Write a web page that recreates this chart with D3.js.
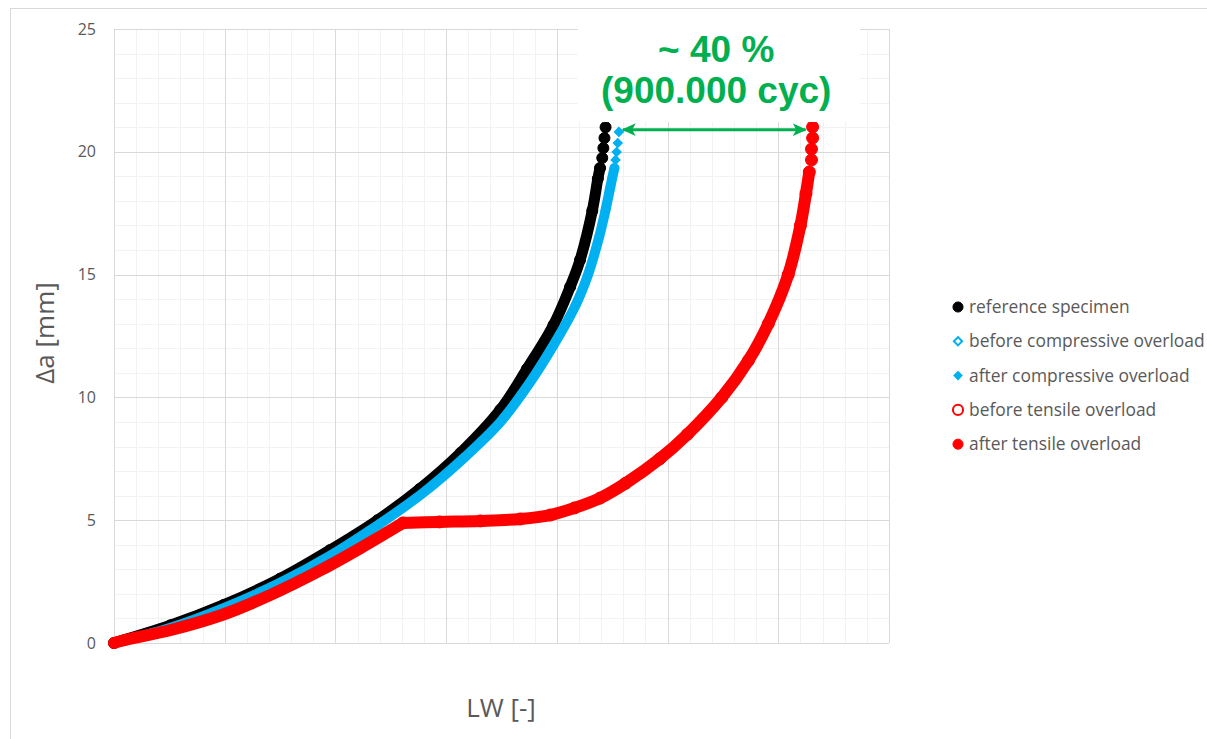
<!DOCTYPE html>
<html>
<head>
<meta charset="utf-8">
<script src="https://cdn.jsdelivr.net/npm/d3@7"></script>
<style>
  body { margin: 0; background: #fff; }
  text { font-family: "Open Sans", sans-serif; }
</style>
</head>
<body>
<div id="chart"></div>
<script>
// data: [LW, delta a (mm)]
var referenceSpecimen = [
  [0.00, 0.00], [0.51, 0.72], [0.99, 1.55], [1.50, 2.62], [1.95, 3.78],
  [2.38, 5.00], [2.76, 6.27], [3.13, 7.74], [3.49, 9.50], [3.73, 11.16],
  [3.97, 12.95], [4.12, 14.50], [4.21, 15.60], [4.32, 17.60], [4.37, 18.90],
  [4.39, 19.34], [4.41, 19.75], [4.42, 20.15], [4.43, 20.56], [4.44, 21.00]
];
var beforeCompressive = [
  [0.00, 0.00], [0.51, 0.62], [0.99, 1.42], [1.50, 2.45], [1.95, 3.55], [2.40, 4.85]
];
var afterCompressive = [
  [2.40, 4.85], [2.78, 6.07], [3.13, 7.41], [3.49, 9.00], [3.74, 10.50],
  [3.97, 12.13], [4.17, 13.76], [4.28, 14.98], [4.38, 16.50], [4.44, 17.63],
  [4.48, 18.50], [4.50, 18.93], [4.52, 19.34], [4.53, 19.67], [4.54, 19.99],
  [4.55, 20.36], [4.56, 20.81]
];
var beforeTensile = [
  [0.00, 0.00], [0.08, 0.10], [0.53, 0.55], [0.98, 1.15], [1.41, 1.95],
  [1.86, 2.95], [2.22, 3.85], [2.61, 4.89]
];
var afterTensile = [
  [2.61, 4.89], [2.94, 4.93], [3.31, 4.97], [3.67, 5.05], [3.94, 5.21],
  [4.16, 5.50], [4.39, 5.90], [4.62, 6.50], [4.93, 7.50], [5.18, 8.50],
  [5.49, 10.00], [5.73, 11.50], [5.91, 13.00], [6.09, 15.00], [6.20, 17.00],
  [6.25, 18.30], [6.28, 19.18], [6.30, 19.67], [6.30, 20.11], [6.31, 20.56], [6.31, 21.01]
];
var yTicks = [0, 5, 10, 15, 20, 25];
var legendLabels = ["reference specimen", "before compressive overload", "after compressive overload",
                    "before tensile overload", "after tensile overload"];
var annotationLines = ["~ 40 %", "(900.000 cyc)"];

drawChart();

function drawChart() {
  var fullWidth = 1207, fullHeight = 739;
  var margin = {top: 29, left: 114};
  var width = 775, height = 614;
  var grey = "#595959", green = "#00B050";

  var svg = d3.select("#chart").append("svg")
    .attr("width", fullWidth)
    .attr("height", fullHeight);

  // chart border
  svg.append("rect")
    .attr("x", 10.5).attr("y", 8.5)
    .attr("width", fullWidth).attr("height", fullHeight)
    .attr("fill", "#fff").attr("stroke", "#d9d9d9");

  var x = d3.scaleLinear().domain([0, 7]).range([0, width]);
  var y = d3.scaleLinear().domain([0, 25]).range([height, 0]);

  var g = svg.append("g")
    .attr("transform", "translate(" + margin.left + "," + margin.top + ")");

  // minor grid
  g.append("g").selectAll("line").data(d3.range(0, 35.5).map(function(i) { return i * 0.2; }))
    .enter().append("line")
    .attr("x1", function(d) { return Math.round(x(d)) + 0.5; })
    .attr("x2", function(d) { return Math.round(x(d)) + 0.5; })
    .attr("y1", 0).attr("y2", height)
    .attr("stroke", "#f2f2f2");
  g.append("g").selectAll("line").data(d3.range(0, 26))
    .enter().append("line")
    .attr("y1", function(d) { return Math.round(y(d)) + 0.5; })
    .attr("y2", function(d) { return Math.round(y(d)) + 0.5; })
    .attr("x1", 0).attr("x2", width)
    .attr("stroke", "#f2f2f2");
  // major grid
  g.append("g").selectAll("line").data(d3.range(0, 8))
    .enter().append("line")
    .attr("x1", function(d) { return Math.round(x(d)) + 0.5; })
    .attr("x2", function(d) { return Math.round(x(d)) + 0.5; })
    .attr("y1", 0).attr("y2", height)
    .attr("stroke", "#d9d9d9");
  g.append("g").selectAll("line").data(yTicks)
    .enter().append("line")
    .attr("y1", function(d) { return Math.round(y(d)) + 0.5; })
    .attr("y2", function(d) { return Math.round(y(d)) + 0.5; })
    .attr("x1", 0).attr("x2", width)
    .attr("stroke", "#d9d9d9");

  // y axis labels
  var yAxis = d3.axisLeft(y).tickValues(yTicks).tickSize(0).tickPadding(18);
  var ya = g.append("g").call(yAxis);
  ya.select(".domain").remove();
  ya.selectAll("text").attr("fill", grey).style("font-size", "16px")
    .style("font-family", "'Open Sans', sans-serif");

  // axis titles
  svg.append("text")
    .attr("transform", "translate(54," + (margin.top + height / 2 - 3) + ") rotate(-90)")
    .attr("text-anchor", "middle")
    .attr("fill", grey).style("font-size", "26px")
    .text("\u0394a [mm]");
  svg.append("text")
    .attr("x", 501).attr("y", 717)
    .attr("text-anchor", "middle")
    .attr("fill", grey).style("font-size", "26px")
    .text("LW [-]");

  var line = d3.line()
    .x(function(d) { return x(d[0]); })
    .y(function(d) { return y(d[1]); })
    .curve(d3.curveCatmullRom.alpha(0.5));

  var circle = d3.symbol().type(d3.symbolCircle);
  var diamond = d3.symbol().type(d3.symbolSquare);

  // bandTop: above this the markers stand apart
  var series = [
    {data: referenceSpecimen, color: "#000000", shape: "circle", open: false, band: 11, size: 95, bandTop: 19.4},
    {data: beforeCompressive, color: "#00B0F0", shape: "diamond", open: true, band: 10, size: 42, bandTop: 25},
    {data: afterCompressive, color: "#00B0F0", shape: "diamond", open: false, band: 10, size: 42, bandTop: 19.4},
    {data: beforeTensile, color: "#FF0000", shape: "circle", open: true, band: 12, size: 113, bandTop: 25},
    {data: afterTensile, color: "#FF0000", shape: "circle", open: false, band: 12, size: 113, bandTop: 19.2}
  ];

  series.forEach(function(s) {
    // dense markers merge into a band
    g.append("path")
      .datum(s.data.filter(function(d) { return d[1] <= s.bandTop; }))
      .attr("d", line)
      .attr("fill", "none")
      .attr("stroke", s.color)
      .attr("stroke-width", s.band)
      .attr("stroke-linecap", "round")
      .attr("stroke-linejoin", "round");

    g.append("g").selectAll("path").data(s.data)
      .enter().append("path")
      .attr("d", (s.shape == "circle" ? circle : diamond).size(s.size))
      .attr("transform", function(d) {
        return "translate(" + x(d[0]) + "," + y(d[1]) + ")" + (s.shape == "diamond" ? " rotate(45)" : "");
      })
      .attr("fill", s.open ? "none" : s.color)
      .attr("stroke", s.open ? "none" : s.color)
      .attr("stroke-width", 1);
  });

  // annotation box and arrow
  var topB = afterCompressive[afterCompressive.length - 1];
  var topR = afterTensile[afterTensile.length - 1];
  var ax1 = x(topB[0]) + 4, ax2 = x(topR[0]) - 7, ay = y(20.9);

  svg.append("rect")
    .attr("x", 578).attr("y", 22)
    .attr("width", 282).attr("height", 100)
    .attr("fill", "#fff");

  var defs = svg.append("defs");
  ["arrowEnd", "arrowStart"].forEach(function(id) {
    defs.append("marker")
      .attr("id", id)
      .attr("viewBox", "0 0 12 12")
      .attr("refX", 11).attr("refY", 6)
      .attr("markerWidth", 14).attr("markerHeight", 14)
      .attr("markerUnits", "userSpaceOnUse")
      .attr("orient", id == "arrowEnd" ? "auto" : "auto-start-reverse")
      .append("path")
      .attr("d", "M0,0.5 L12,6 L0,11.5 L3,6 Z")
      .attr("fill", green);
  });

  g.append("line")
    .attr("x1", ax1).attr("x2", ax2)
    .attr("y1", ay).attr("y2", ay)
    .attr("stroke", green).attr("stroke-width", 3)
    .attr("marker-start", "url(#arrowStart)")
    .attr("marker-end", "url(#arrowEnd)");

  var midX = margin.left + (ax1 + ax2) / 2 + 2;
  svg.selectAll(".annot").data(annotationLines)
    .enter().append("text")
    .attr("class", "annot")
    .attr("x", midX)
    .attr("y", function(d, i) { return 62 + i * 41; })
    .attr("text-anchor", "middle")
    .attr("fill", green)
    .style("font-family", "'Liberation Sans', Arial, sans-serif")
    .style("font-weight", "bold")
    .style("font-size", "37px")
    .text(function(d) { return d; });

  // legend
  var legend = svg.append("g").attr("transform", "translate(958,307)");
  var items = legend.selectAll("g").data(series)
    .enter().append("g")
    .attr("transform", function(d, i) { return "translate(0," + (i * 34.3) + ")"; });
  items.append("path")
    .attr("d", function(d) {
      return (d.shape == "circle" ? circle.size(80) : diamond.size(34))();
    })
    .attr("transform", function(d) { return d.shape == "diamond" ? "rotate(45)" : null; })
    .attr("fill", function(d) { return d.open ? "#fff" : d.color; })
    .attr("stroke", function(d) { return d.color; })
    .attr("stroke-width", function(d) { return d.open ? 2 : 1; });
  items.append("text")
    .attr("x", 11).attr("y", 6)
    .attr("fill", grey)
    .style("font-size", "17.4px")
    .text(function(d, i) { return legendLabels[i]; });
}
</script>
</body>
</html>
